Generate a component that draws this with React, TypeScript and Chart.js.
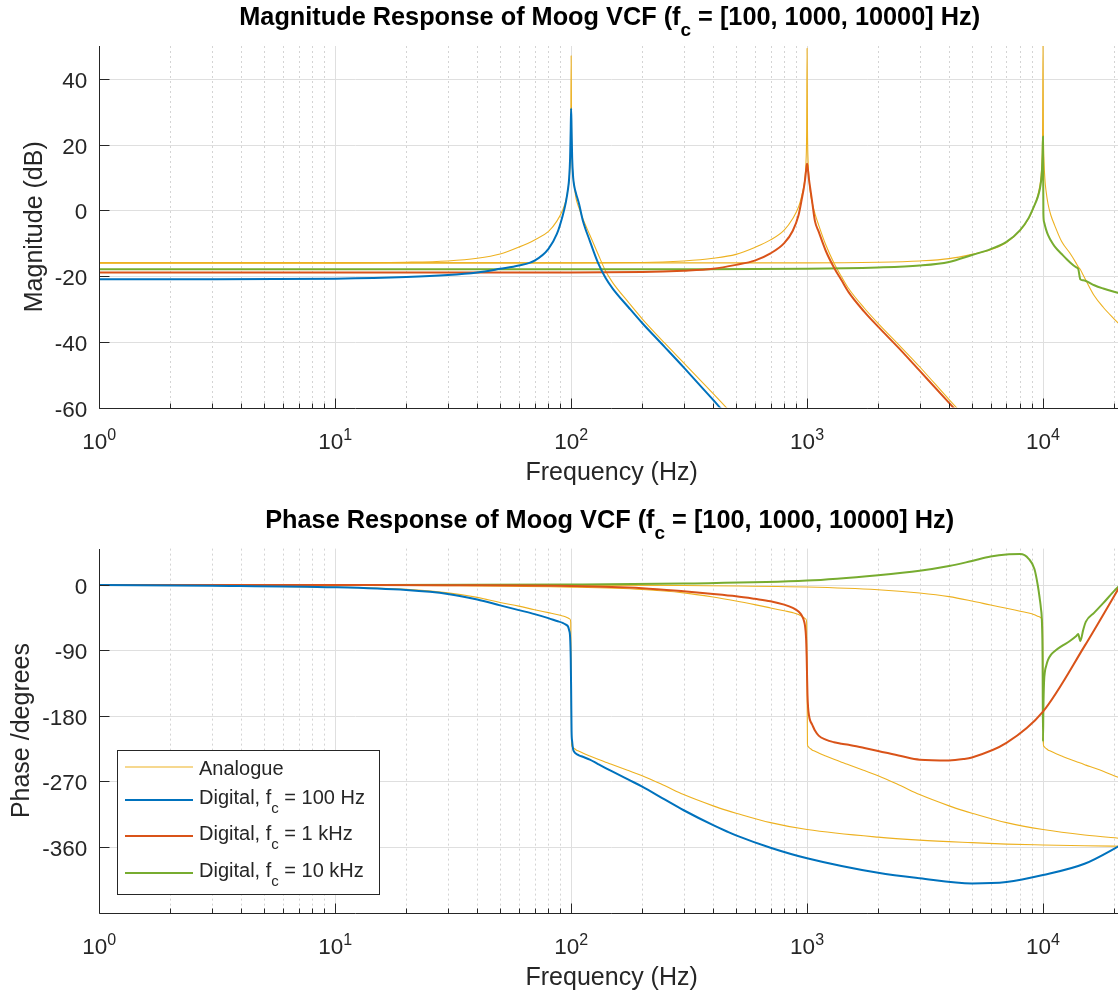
import React, { useEffect, useRef } from "react";
import { Chart, registerables } from "chart.js";

Chart.register(...registerables);

// ---------------- DATA ----------------
const freq100 = [1, 3, 10, 20, 30, 40, 50, 60, 70, 80, 87, 92, 95, 97, 98, 99, 99.6, 100, 100.4, 101, 102, 103, 105, 108, 112, 120, 130, 140, 150, 175, 200, 250, 300, 400, 460, 500, 700, 1000, 2000, 3000, 5000, 7000, 10000, 15000, 22050];
const freq1k = [1, 3, 10, 30, 100, 200, 300, 400, 500, 600, 700, 800, 870, 920, 950, 970, 980, 990, 996, 1000, 1004, 1010, 1020, 1030, 1050, 1080, 1120, 1200, 1300, 1400, 1500, 1750, 2000, 2500, 3000, 4000, 4600, 5000, 7000, 10000, 15000, 22050];
const freq10k = [1, 10, 100, 300, 1000, 2000, 3000, 4000, 5000, 6000, 7000, 8000, 8700, 9200, 9500, 9700, 9800, 9900, 9960, 10000, 10040, 10100, 10200, 10300, 10500, 10800, 11200, 12000, 13000, 13800, 14100, 14400, 14800, 15200, 16500, 18000, 20000, 22050];

// Magnitude (dB)
const magAnalogue100 = [-16, -16, -16, -15.8, -15.4, -14.6, -13.3, -11.2, -9, -6.5, -3.3, 0, 3, 6.5, 9, 14, 22, 47, 24, 15, 10, 7.5, 3.5, 0.7, -2.5, -7.5, -13.3, -18.5, -22, -28, -33, -40.5, -46.4, -55.8, -60.4, -63.2, null, null, null, null, null, null, null, null, null];
const magDigital100 = [-21, -21, -20.8, -20.3, -19.7, -18.9, -17.8, -16.8, -15.3, -11.8, -7.2, -1.7, 2.5, 6.5, 9.5, 16, 25, 31, 25, 16, 10, 7.5, 5, 2, -3, -9.3, -16, -20.6, -23.8, -29.5, -34.3, -41.7, -47.8, -57.7, -62.5, -65.2, null, null, null, null, null, null, null, null, null];
const magAnalogue1k = [-16, -16, -16, -16, -16, -15.9, -15.4, -14.6, -13.4, -11.3, -9, -6, -2.5, 1, 4.5, 7.5, 10, 15, 24, 49.3, 25, 15, 9.5, 6, 2.5, -1, -4.5, -10.5, -16, -20.2, -23.8, -29.8, -34.4, -41.6, -47.6, -57.6, -62.3, -65, null, null, null, null];
const magDigital1k = [-18.9, -18.9, -18.9, -18.9, -18.9, -18.8, -18.4, -17.8, -16.6, -15.3, -13.1, -10, -6.2, -1.5, 3.5, 7, 9.2, 12, 13.5, 14.2, 13.5, 12, 9.2, 7, 2.8, -3.3, -6.5, -12.3, -17.4, -21.3, -24.9, -30.9, -35.4, -42.6, -48.8, -58.6, -63.4, -66.2, null, null, null, null];
const magAnalogue10k = [-16, -16, -16, -16, -16, -15.8, -15.4, -14.7, -13.4, -12, -9.8, -6.2, -2.5, 1.5, 4.5, 7.5, 10, 15, 24, 51, 24, 15, 9, 6, 2, -1.5, -4.5, -9.5, -13, -16, -17.2, -18, -19.7, -21.3, -26, -29.5, -33, -36];
const magDigital10k = [-17.9, -17.9, -17.9, -17.9, -17.8, -17.4, -16.8, -15.7, -13.6, -11.8, -9.6, -6, -2.3, 1.5, 4, 6.5, 8.5, 12, 17, 22.5, -1, -3.5, -4.7, -5.8, -7.5, -9.2, -11, -13.3, -15.8, -17.3, -17.8, -21, -21.3, -21.5, -22.8, -23.8, -24.8, -25.6];

// Phase (degrees)
const phaseAnalogue100 = [0, -0.8, -3, -6, -10.8, -17, -24, -29, -34, -38, -40.5, -42.5, -44, -45.5, -46, -47, -52, -135, -219, -222, -223.5, -224.5, -226.7, -228.5, -231, -235, -239.5, -243.5, -247, -255, -262, -276, -288, -303.5, -310, -313.5, -326.5, -336, -346.5, -350.5, -354, -356, -357.2, -358.3, -359];
const phaseDigital100 = [0, -1, -3.2, -7, -12.3, -20, -28, -34.5, -40, -45.5, -49.5, -52, -54.5, -57, -62, -72, -100, -145, -200, -215, -226, -229, -232, -234, -236, -240, -246, -251.5, -256.5, -267.5, -277, -295, -309.5, -330, -339, -344, -361, -375.5, -395.5, -403, -410, -408, -398.5, -383, -355];
const phaseAnalogue1k = [0, 0, -0.3, -0.9, -3, -6.2, -10.8, -16.5, -22, -27, -31.5, -35.5, -38, -40.5, -43, -45, -46, -47, -52, -135, -219, -222, -223.5, -224.5, -226.7, -228.5, -231, -235, -239.5, -243.5, -247, -255, -262, -276, -288, -303.5, -310, -313.5, -326.5, -336, -343.5, -348.5];
const phaseDigital1k = [0, 0, -0.1, -0.4, -1.5, -4.5, -8.7, -12.3, -15.5, -19, -22.3, -27, -31.5, -36.5, -42, -49, -56, -72, -98, -125, -150, -168, -180, -186, -191.5, -200, -207, -212.5, -216, -218, -219.5, -224, -228, -235, -240, -241, -239.2, -237, -217, -174, -84, 8];
const phaseAnalogue10k = [0, 0, -0.2, -0.8, -2.8, -6.5, -11, -16, -22, -27.5, -32, -36, -38.5, -41, -43, -44, -45, -46.5, -52, -135, -219, -222, -223.5, -224.5, -226.7, -228.5, -231, -235, -239.5, -242.5, -243.5, -244.5, -246, -247.5, -251.5, -256, -262, -267];
const phaseDigital10k = [0, 0.1, 0.7, 2, 6, 13.5, 19.5, 26, 33, 39, 42, 42.5, 36, 22, 0, -20, -32, -52, -100, -215, -170, -135, -118, -112, -103, -96, -91, -84, -77, -70.5, -67.5, -77, -62, -50.4, -38, -25, -8.5, 5];

// Axes / ticks / texts
const xDecades = [1, 10, 100, 1000, 10000];
const xTickBase = "10";
const xTickExponents = ["0", "1", "2", "3", "4"];
const magTicks = [40, 20, 0, -20, -40, -60];
const phaseTicks = [0, -90, -180, -270, -360];
const magTitleParts = [
  { t: "Magnitude Response of Moog VCF (f" },
  { t: "c", sub: true },
  { t: " = [100, 1000, 10000] Hz)" },
];
const phaseTitleParts = [
  { t: "Phase Response of Moog VCF (f" },
  { t: "c", sub: true },
  { t: " = [100, 1000, 10000] Hz)" },
];
const xLabel = "Frequency (Hz)";
const magYLabel = "Magnitude (dB)";
const phaseYLabel = "Phase /degrees";
const legendEntries = [
  [{ t: "Analogue" }],
  [{ t: "Digital, f" }, { t: "c", sub: true }, { t: " = 100 Hz" }],
  [{ t: "Digital, f" }, { t: "c", sub: true }, { t: " = 1 kHz" }],
  [{ t: "Digital, f" }, { t: "c", sub: true }, { t: " = 10 kHz" }],
];

// ---------------- STYLE ----------------
const FONT = '"Liberation Sans", Arial, Helvetica, sans-serif';
const AXIS = "#262626";
const C_ANA = "#EDB120";
const C_BLUE = "#0072BD";
const C_RED = "#D95319";
const C_GREEN = "#77AC30";
const W_ANA = 1.1;
const W_DIG = 2;

type Part = { t: string; sub?: boolean };

function drawParts(ctx: CanvasRenderingContext2D, parts: Part[], x: number, y: number, size: number, weight: string, align: string, subScale: number, subDrop: number) {
  const mainFont = `${weight} ${size}px ${FONT}`;
  const subFont = `${weight} ${size * subScale}px ${FONT}`;
  let total = 0;
  const widths = parts.map((p) => {
    ctx.font = p.sub ? subFont : mainFont;
    const w = ctx.measureText(p.t).width;
    total += w;
    return w;
  });
  let cx = align === "center" ? x - total / 2 : x;
  ctx.textAlign = "left";
  ctx.textBaseline = "alphabetic";
  parts.forEach((p, i) => {
    ctx.font = p.sub ? subFont : mainFont;
    ctx.fillText(p.t, cx, p.sub ? y + subDrop : y);
    cx += widths[i];
  });
}

function series(f: number[], v: (number | null)[], color: string, width: number, label: string, order: number) {
  return {
    label,
    data: f.map((x, i) => ({ x, y: v[i] })),
    borderColor: color,
    backgroundColor: color,
    borderWidth: width,
    borderJoinStyle: "round",
    cubicInterpolationMode: "monotone",
    pointRadius: 0,
    fill: false,
    spanGaps: false,
    order,
    clip: 0,
  };
}

type Cfg = {
  yMin: number; yMax: number; yTicks: number[];
  padTop: number; padBottom: number;
  title: Part[]; titleBaseline: number;
  yLabel: string; yLabelX: number;
  legend: boolean;
};

function makePlugin(cfg: Cfg) {
  return {
    id: "matlabAxes",
    beforeDatasetsDraw(chart: any) {
      const ctx = chart.ctx as CanvasRenderingContext2D;
      const { left, right, top, bottom } = chart.chartArea;
      const xs = chart.scales.x, ys = chart.scales.y;
      ctx.save();
      ctx.lineWidth = 1;
      ctx.strokeStyle = "#d4d4d4";
      ctx.setLineDash([2, 3]);
      for (const d of xDecades) {
        for (let m = 2; m <= 9; m++) {
          const f = d * m;
          if (f > xs.max) continue;
          const px = Math.round(xs.getPixelForValue(f)) + 0.5;
          ctx.beginPath(); ctx.moveTo(px, top); ctx.lineTo(px, bottom); ctx.stroke();
        }
      }
      ctx.setLineDash([]);
      ctx.strokeStyle = "#dfdfdf";
      for (const d of xDecades) {
        if (d <= xs.min) continue;
        const px = Math.round(xs.getPixelForValue(d)) + 0.5;
        ctx.beginPath(); ctx.moveTo(px, top); ctx.lineTo(px, bottom); ctx.stroke();
      }
      for (const t of cfg.yTicks) {
        if (t <= ys.min) continue;
        const py = Math.round(ys.getPixelForValue(t)) + 0.5;
        ctx.beginPath(); ctx.moveTo(left, py); ctx.lineTo(right, py); ctx.stroke();
      }
      ctx.restore();
    },
    afterDatasetsDraw(chart: any) {
      const ctx = chart.ctx as CanvasRenderingContext2D;
      const { left, right, top, bottom } = chart.chartArea;
      const xs = chart.scales.x, ys = chart.scales.y;
      ctx.save();
      const L = Math.round(left) + 0.5;
      const B = Math.round(bottom) + 0.5;
      ctx.strokeStyle = AXIS;
      ctx.lineWidth = 1;
      ctx.beginPath();
      ctx.moveTo(L, Math.round(top));
      ctx.lineTo(L, B);
      ctx.lineTo(right, B);
      for (const t of cfg.yTicks) {
        const py = Math.round(ys.getPixelForValue(t)) + 0.5;
        ctx.moveTo(L, py); ctx.lineTo(L + 10, py);
      }
      for (const d of xDecades) {
        for (let m = 1; m <= 9; m++) {
          const f = d * m;
          if (f < xs.min || f > xs.max) continue;
          const px = Math.round(xs.getPixelForValue(f)) + 0.5;
          ctx.moveTo(px, B); ctx.lineTo(px, B - (m === 1 ? 10 : 5));
        }
      }
      ctx.stroke();

      ctx.fillStyle = AXIS;
      ctx.font = `22.5px ${FONT}`;
      ctx.textAlign = "right";
      ctx.textBaseline = "alphabetic";
      for (const t of cfg.yTicks) {
        ctx.fillText(String(t), left - 12, ys.getPixelForValue(t) + 9);
      }
      for (let i = 0; i < xDecades.length; i++) {
        const px = xs.getPixelForValue(xDecades[i]);
        ctx.font = `22.5px ${FONT}`;
        const w1 = ctx.measureText(xTickBase).width;
        ctx.font = `16px ${FONT}`;
        const w2 = ctx.measureText(xTickExponents[i]).width;
        const sx = px - (w1 + w2) / 2;
        const base = bottom + 41;
        ctx.textAlign = "left";
        ctx.font = `22.5px ${FONT}`;
        ctx.fillText(xTickBase, sx, base);
        ctx.font = `16px ${FONT}`;
        ctx.fillText(xTickExponents[i], sx + w1, base - 9);
      }
      ctx.font = `25px ${FONT}`;
      ctx.textAlign = "center";
      ctx.fillText(xLabel, (left + right) / 2, bottom + 72.5);
      ctx.save();
      ctx.translate(cfg.yLabelX, (top + bottom) / 2);
      ctx.rotate(-Math.PI / 2);
      ctx.textAlign = "center";
      ctx.fillText(cfg.yLabel, 0, 0);
      ctx.restore();
      ctx.fillStyle = "#000";
      drawParts(ctx, cfg.title, (left + right) / 2 - 2, cfg.titleBaseline, 25.3, "bold", "center", 0.75, 11);

      if (cfg.legend) {
        const colors = [C_ANA, C_BLUE, C_RED, C_GREEN];
        const widths = [W_ANA, W_DIG, W_DIG, W_DIG];
        const lineYs = [267, 300, 336, 373];
        const textYs = [275, 304, 340, 377];
        ctx.fillStyle = "#fff";
        ctx.fillRect(117.5, 250.5, 262, 144);
        ctx.strokeStyle = AXIS;
        ctx.lineWidth = 1;
        ctx.strokeRect(117.5, 250.5, 262, 144);
        legendEntries.forEach((parts, i) => {
          ctx.strokeStyle = colors[i];
          ctx.lineWidth = widths[i];
          ctx.beginPath();
          ctx.moveTo(125, lineYs[i]);
          ctx.lineTo(193, lineYs[i]);
          ctx.stroke();
          ctx.fillStyle = AXIS;
          drawParts(ctx, parts as Part[], 199, textYs[i], 20, "normal", "left", 0.75, 9);
        });
      }
      ctx.restore();
    },
  };
}

function makeChart(canvas: HTMLCanvasElement, datasets: any[], cfg: Cfg) {
  return new Chart(canvas, {
    type: "line",
    data: { datasets },
    options: {
      animation: false,
      responsive: false,
      devicePixelRatio: 1,
      events: [],
      layout: { padding: { top: cfg.padTop, bottom: cfg.padBottom, left: 99.3, right: 0 } },
      plugins: { legend: { display: false }, tooltip: { enabled: false }, title: { display: false } },
      scales: {
        x: { type: "logarithmic", min: 1, max: 22050, display: false },
        y: { type: "linear", min: cfg.yMin, max: cfg.yMax, display: false },
      },
      elements: { point: { radius: 0 } },
    } as any,
    plugins: [makePlugin(cfg) as any],
  } as any);
}

export default function App() {
  const topRef = useRef<HTMLCanvasElement>(null);
  const botRef = useRef<HTMLCanvasElement>(null);

  useEffect(() => {
    const magSets = [
      series(freq100, magDigital100, C_BLUE, W_DIG, "Digital, fc = 100 Hz", 1),
      series(freq1k, magDigital1k, C_RED, W_DIG, "Digital, fc = 1 kHz", 1),
      series(freq10k, magDigital10k, C_GREEN, W_DIG, "Digital, fc = 10 kHz", 1),
      series(freq100, magAnalogue100, C_ANA, W_ANA, "Analogue", 2),
      series(freq1k, magAnalogue1k, C_ANA, W_ANA, "Analogue", 2),
      series(freq10k, magAnalogue10k, C_ANA, W_ANA, "Analogue", 2),
    ];
    const phaseSets = [
      series(freq100, phaseDigital100, C_BLUE, W_DIG, "Digital, fc = 100 Hz", 1),
      series(freq1k, phaseDigital1k, C_RED, W_DIG, "Digital, fc = 1 kHz", 1),
      series(freq10k, phaseDigital10k, C_GREEN, W_DIG, "Digital, fc = 10 kHz", 1),
      series(freq100, phaseAnalogue100, C_ANA, W_ANA, "Analogue", 2),
      series(freq1k, phaseAnalogue1k, C_ANA, W_ANA, "Analogue", 2),
      series(freq10k, phaseAnalogue10k, C_ANA, W_ANA, "Analogue", 2),
    ];
    const c1 = makeChart(topRef.current!, magSets, {
      yMin: -60, yMax: 50, yTicks: magTicks,
      padTop: 46, padBottom: 92.5,
      title: magTitleParts, titleBaseline: 24.5,
      yLabel: magYLabel, yLabelX: 41.5, legend: false,
    });
    const c2 = makeChart(botRef.current!, phaseSets, {
      yMin: -450, yMax: 50, yTicks: phaseTicks,
      padTop: 48.6, padBottom: 80.5,
      title: phaseTitleParts, titleBaseline: 28.3,
      yLabel: phaseYLabel, yLabelX: 28.5, legend: true,
    });
    return () => {
      c1.destroy();
      c2.destroy();
    };
  }, []);

  return (
    <div style={{ position: "absolute", left: 0, top: 0, width: 1118, height: 993, overflow: "hidden", background: "#fff" }}>
      <canvas ref={topRef} width={1124} height={500} style={{ position: "absolute", left: 0, top: 0, width: 1124, height: 500 }} />
      <canvas ref={botRef} width={1124} height={493} style={{ position: "absolute", left: 0, top: 500, width: 1124, height: 493 }} />
    </div>
  );
}
